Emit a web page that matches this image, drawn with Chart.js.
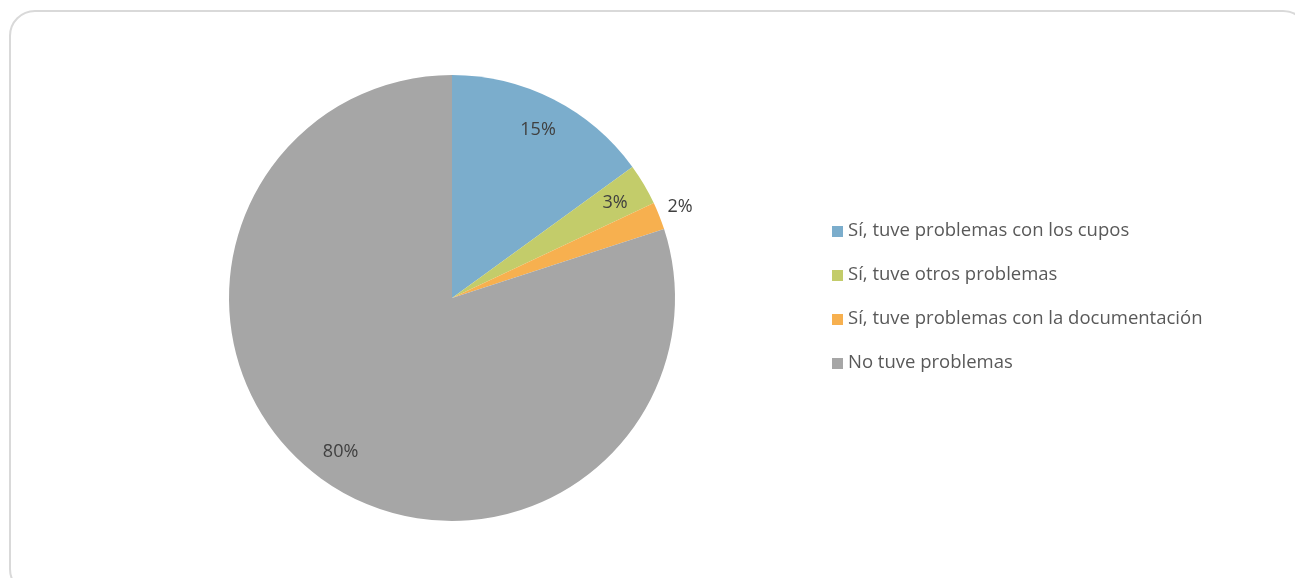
<!DOCTYPE html>
<html>
<head>
<meta charset="utf-8">
<script src="https://cdn.jsdelivr.net/npm/chart.js@4"></script>
<style>
    html, body {
        margin: 0;
        padding: 0;
        background: #ffffff;
        overflow: hidden;
    }

    #page {
        position: relative;
        width: 1295px;
        height: 578px;
    }

    #card {
        position: absolute;
        left: 9px;
        top: 10px;
        width: 1300px;
        height: 585px;
        border: 2px solid #d9d9d9;
        border-radius: 26px;
        box-sizing: border-box;
    }

    #chartBox {
        position: absolute;
        left: 0;
        top: 0;
        width: 1295px;
        height: 578px;
    }
</style>
</head>
<body>
<div id="page">
    <div id="card"></div>
    <div id="chartBox">
        <canvas id="problemPie"></canvas>
    </div>
</div>

<script>
// ==========================
// DATA
// ==========================

const categories = [
    "Sí, tuve problemas con los cupos",
    "Sí, tuve otros problemas",
    "Sí, tuve problemas con la documentación",
    "No tuve problemas"
];

const percentages = [15, 3, 2, 80];

const sliceColors = [
    "#7badcc",
    "#c3cc6a",
    "#f7b04f",
    "#a6a6a6"
];

const FONT = "'Open Sans', 'DejaVu Sans', sans-serif";

// ==========================
// SLICE LABELS
// ==========================

const sliceLabels = {

    id: "sliceLabels",

    afterDatasetsDraw(chart) {

        const ctx = chart.ctx;
        const meta = chart.getDatasetMeta(0);

        ctx.save();
        ctx.font = "18px " + FONT;
        ctx.fillStyle = "#404040";
        ctx.textAlign = "center";
        ctx.textBaseline = "middle";

        meta.data.forEach((arc, i) => {

            const p = arc.getProps(
                ["x", "y", "startAngle", "endAngle", "outerRadius"], true);

            const mid = (p.startAngle + p.endAngle) / 2;

            // thin slices get their label just outside the rim
            const outside = percentages[i] < 2.5;
            const dist = outside
                ? p.outerRadius * 1.1
                : p.outerRadius * 0.85;

            ctx.fillText(
                percentages[i] + "%",
                p.x + Math.cos(mid) * dist,
                p.y + Math.sin(mid) * dist + (outside ? -1 : 1));
        });

        ctx.restore();
    }
};

// ==========================
// SIDE LEGEND
// ==========================

const sideLegend = {

    id: "sideLegend",

    afterDraw(chart) {

        const ctx = chart.ctx;
        const x = 832;
        const top = 230.5;
        const step = 44;
        const box = 11;

        ctx.save();
        ctx.font = "18.5px " + FONT;
        ctx.textAlign = "left";
        ctx.textBaseline = "middle";

        categories.forEach((name, i) => {

            const y = top + i * step;

            ctx.fillStyle = sliceColors[i];
            ctx.fillRect(x, Math.round(y - box / 2 + 1), box, box);

            ctx.fillStyle = "#595959";
            ctx.fillText(name, x + 16, y);
        });

        ctx.restore();
    }
};

// ==========================
// PIE CHART
// ==========================

const pieCtx =
document.getElementById(
    "problemPie");

new Chart(pieCtx, {

    type: "pie",

    data: {

        labels: categories,

        datasets: [{

            data: percentages,

            backgroundColor: sliceColors,

            borderWidth: 0
        }]
    },

    options: {

        responsive: true,

        maintainAspectRatio: false,

        animation: false,

        layout: {

            padding: {
                left: 229,
                right: 620,
                top: 75,
                bottom: 57
            }
        },

        plugins: {

            legend: {
                display: false
            },

            tooltip: {
                enabled: false
            }
        }
    },

    plugins: [sliceLabels, sideLegend]
});
</script>
</body>
</html>
